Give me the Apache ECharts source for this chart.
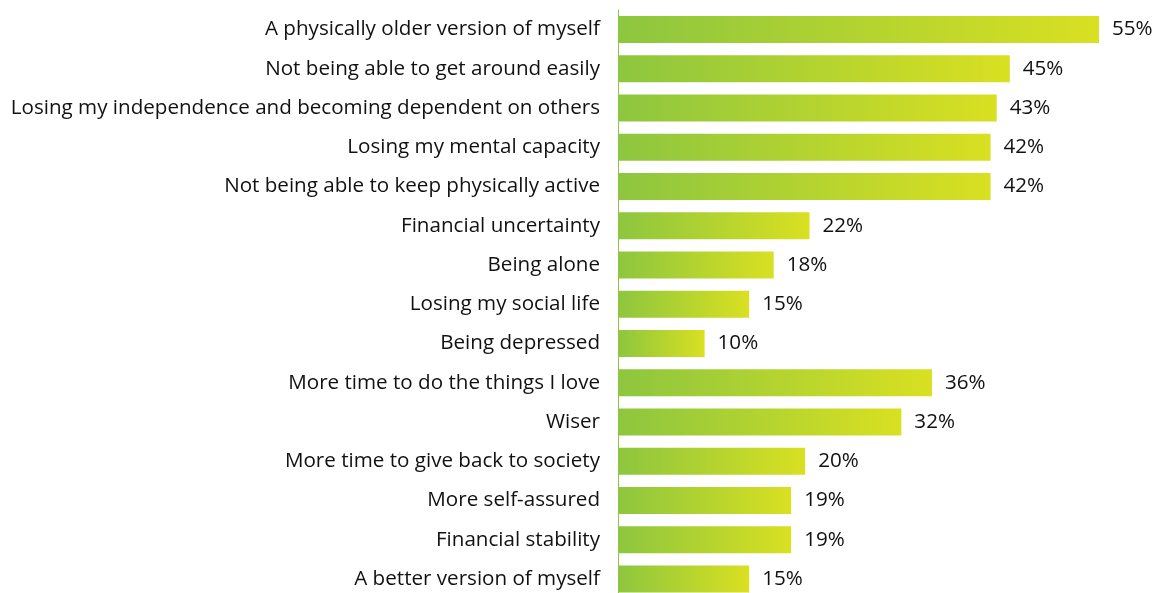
<!DOCTYPE html>
<html><head><meta charset="utf-8">
<script src="https://cdn.jsdelivr.net/npm/echarts@6/dist/echarts.min.js"></script>
<style>html,body{margin:0;padding:0;background:#fff;overflow:hidden}#c{width:1161px;height:600px}</style>
</head><body><div id="c"></div>
<script>
const categories = [
  "A physically older version of myself",
  "Not being able to get around easily",
  "Losing my independence and becoming dependent on others",
  "Losing my mental capacity",
  "Not being able to keep physically active",
  "Financial uncertainty",
  "Being alone",
  "Losing my social life",
  "Being depressed",
  "More time to do the things I love",
  "Wiser",
  "More time to give back to society",
  "More self-assured",
  "Financial stability",
  "A better version of myself"
];
// bar lengths as drawn in the picture
const values = [55, 44.8, 43.3, 42.6, 42.6, 21.9, 17.8, 15, 9.9, 35.9, 32.4, 21.4, 19.8, 19.8, 15];
// printed labels
const valueLabels = ["55%", "45%", "43%", "42%", "42%", "22%", "18%", "15%", "10%", "36%", "32%", "20%", "19%", "19%", "15%"];

const chart = echarts.init(document.getElementById('c'));
chart.setOption({
  animation: false,
  grid: { left: 618, top: 10, width: 481, height: 588.5, containLabel: false },
  xAxis: { type: 'value', min: 0, max: 55, show: false },
  yAxis: {
    type: 'category', data: categories, inverse: true,
    axisLine: { show: true, lineStyle: { color: '#8dc63f', width: 1 } },
    axisTick: { show: false },
    axisLabel: { margin: 18, color: '#111', fontFamily: 'Open Sans', fontSize: 20.6 }
  },
  series: [{
    type: 'bar', data: values, barWidth: 27,
    itemStyle: {
      color: new echarts.graphic.LinearGradient(0, 0, 1, 0, [
        { offset: 0, color: '#8dc63f' }, { offset: 1, color: '#d9e021' }
      ])
    },
    label: {
      show: true, position: 'right', distance: 13,
      formatter: p => valueLabels[p.dataIndex], color: '#111', fontFamily: 'Open Sans', fontSize: 20.6
    }
  }]
});
</script></body></html>
